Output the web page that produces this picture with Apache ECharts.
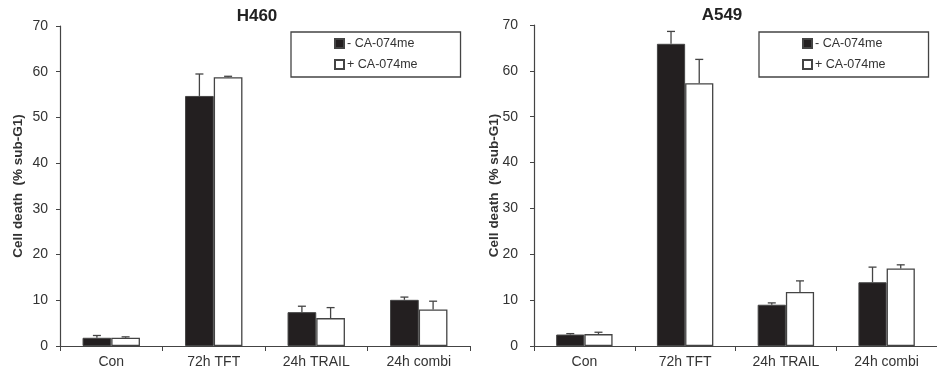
<!DOCTYPE html>
<html>
<head>
<meta charset="utf-8">
<script src="https://cdn.jsdelivr.net/npm/echarts@6/dist/echarts.min.js"></script>
<style>
  html, body { margin: 0; padding: 0; background: #fff; }
  #chart { width: 937px; height: 371px; }
</style>
</head>
<body>
<div id="chart"></div>
<script>
// categories and readings (% sub-G1)
var categories = ["Con", "72h TFT", "24h TRAIL", "24h combi"];
var seriesNames = ["- CA-074me", "+ CA-074me"];
var yTicks = [0, 10, 20, 30, 40, 50, 60, 70];

// H460
var h460Minus = [1.8, 54.7, 7.4, 10.1];
var h460MinusErr = [0.5, 4.8, 1.3, 0.6];
var h460Plus = [1.8, 58.8, 6.1, 8.0];
var h460PlusErr = [0.2, 0.2, 2.3, 1.8];

// A549
var a549Minus = [2.5, 65.9, 9.0, 13.9];
var a549MinusErr = [0.2, 2.7, 0.4, 3.3];
var a549Plus = [2.6, 57.3, 11.8, 16.9];
var a549PlusErr = [0.4, 5.2, 2.4, 0.8];

var axisColor = "#444";
var textColor = "#333";
var barBlack = "#231f20";

function errData(vals, errs) {
  return vals.map(function (v, i) {
    return [i, v, errs[i]];
  });
}

// draws the upper half of an error bar, shifted onto the left or right bar
function errRender(shift) {
  return function (params, api) {
    var base = api.coord([api.value(0), api.value(1)]);
    var top = api.coord([api.value(0), api.value(1) + api.value(2)]);
    var band = api.size([1, 0])[0];
    var x = base[0] + shift * band;
    var style = { stroke: axisColor, lineWidth: 1.3 };
    return {
      type: "group",
      children: [
        { type: "line", shape: { x1: x, y1: base[1], x2: x, y2: top[1] }, style: style },
        { type: "line", shape: { x1: x - 4, y1: top[1], x2: x + 4, y2: top[1] }, style: style }
      ]
    };
  };
}

function xAxis(gridIndex) {
  return {
    type: "category",
    gridIndex: gridIndex,
    data: categories,
    axisLine: { lineStyle: { color: axisColor, width: 1.2 } },
    axisTick: { show: true, length: 5, lineStyle: { color: axisColor } },
    axisLabel: { color: textColor, fontSize: 14, fontFamily: "Liberation Sans", margin: 9 }
  };
}

function yAxis(gridIndex, gap, margin) {
  return {
    type: "value",
    gridIndex: gridIndex,
    min: 0,
    max: 70,
    interval: 10,
    name: "Cell death  (% sub-G1)",
    nameLocation: "middle",
    nameGap: gap,
    nameMoveOverlap: false,
    nameTextStyle: { color: textColor, fontSize: 13.5, fontWeight: "bold", fontFamily: "Liberation Sans" },
    splitLine: { show: false },
    axisLine: { show: true, lineStyle: { color: axisColor, width: 1.2 } },
    axisTick: { show: true, length: 4, lineStyle: { color: axisColor } },
    axisLabel: {
      color: textColor, fontSize: 14, fontFamily: "Liberation Sans", margin: margin,
      formatter: function (v) { return yTicks.indexOf(v) >= 0 ? String(v) : ""; }
    }
  };
}

function legend(left) {
  return {
    data: seriesNames,
    orient: "vertical",
    left: left,
    top: 32,
    itemWidth: 9,
    itemHeight: 9,
    itemGap: 8,
    padding: [5, 43, 6, 43],
    borderColor: axisColor,
    borderWidth: 1.3,
    icon: "rect",
    textStyle: { color: textColor, fontSize: 12.5, fontFamily: "Liberation Sans", padding: [0, 0, 0, -2] }
  };
}

function bars(xi, minus, minusErr, plus, plusErr) {
  return [
    {
      name: seriesNames[0], type: "bar", xAxisIndex: xi, yAxisIndex: xi,
      data: minus, barWidth: "28%", barGap: "0%",
      itemStyle: { color: barBlack, borderColor: axisColor, borderWidth: 1 }
    },
    {
      name: seriesNames[1], type: "bar", xAxisIndex: xi, yAxisIndex: xi,
      data: plus, barWidth: "28%", barGap: "0%",
      itemStyle: { color: "#fff", borderColor: axisColor, borderWidth: 1.3 }
    },
    {
      type: "custom", xAxisIndex: xi, yAxisIndex: xi, z: 5,
      renderItem: errRender(-0.14), data: errData(minus, minusErr),
      encode: { x: 0, y: 1 }
    },
    {
      type: "custom", xAxisIndex: xi, yAxisIndex: xi, z: 5,
      renderItem: errRender(0.14), data: errData(plus, plusErr),
      encode: { x: 0, y: 1 }
    }
  ];
}

var chart = echarts.init(document.getElementById("chart"), null, { renderer: "canvas" });

chart.setOption({
  animation: false,
  backgroundColor: "#fff",
  graphic: [
    { type: "text", x: 257, y: 8, style: { text: "H460", textAlign: "center", font: "bold 17px 'Liberation Sans'", fill: "#222" } },
    { type: "text", x: 722, y: 7, style: { text: "A549", textAlign: "center", font: "bold 17px 'Liberation Sans'", fill: "#222" } }
  ],
  grid: [
    { left: 60, top: 26, width: 410, height: 320 },
    { left: 534, top: 25, width: 408, height: 321 }
  ],
  legend: [legend(291), legend(759)],
  xAxis: [xAxis(0), xAxis(1)],
  yAxis: [yAxis(0, 35, 12), yAxis(1, 33, 16)],
  series: bars(0, h460Minus, h460MinusErr, h460Plus, h460PlusErr)
    .concat(bars(1, a549Minus, a549MinusErr, a549Plus, a549PlusErr))
});
</script>
</body>
</html>
